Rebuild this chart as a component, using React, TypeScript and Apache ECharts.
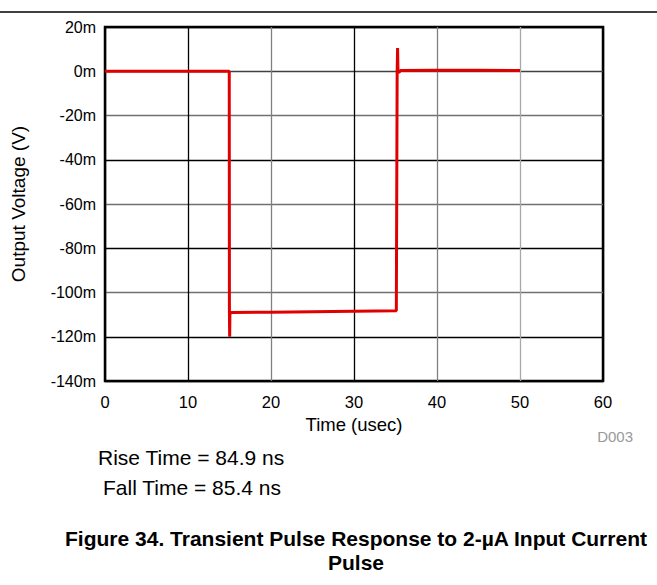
import React, { useEffect, useRef } from "react";
import * as echarts from "echarts";

// Time in microseconds
const timeUs = [0, 5, 10, 14.97, 14.99, 15.02, 15.05, 15.3, 20, 25, 30, 35.1, 35.2, 35.25, 35.3, 35.4, 35.6, 40, 45, 50];
// Output voltage in mV
const outputMv = [0, 0, 0, 0, -109, -120, -109.5, -109, -108.9, -108.7, -108.5, -108.3, 0, 10.5, 0, -0.6, 0.3, 0.4, 0.4, 0.3];

const xTicks = [0, 10, 20, 30, 40, 50, 60];
const yTicks = [-140, -120, -100, -80, -60, -40, -20, 0, 20];

const titleLines = ["Figure 34. Transient Pulse Response to 2-µA Input Current", "Pulse"];
const notes = ["Rise Time = 84.9 ns", "Fall Time = 85.4 ns"];

const FONT = "'Liberation Sans', Arial, sans-serif";

export default function App() {
  const ref = useRef<HTMLDivElement>(null);
  useEffect(() => {
    if (!ref.current) return;
    const chart = echarts.init(ref.current, undefined, { renderer: "svg" });
    const data = timeUs.map((t, i) => [t, outputMv[i]]);
    chart.setOption({
      animation: false,
      backgroundColor: "#fff",
      textStyle: { fontFamily: FONT },
      grid: {
        left: 105, top: 27, width: 498, height: 354,
        show: true, borderColor: "#000", borderWidth: 2.5, backgroundColor: "transparent",
      },
      xAxis: {
        type: "value",
        min: xTicks[0], max: xTicks[xTicks.length - 1], interval: 10,
        name: "Time (usec)", nameLocation: "middle", nameGap: 33,
        nameTextStyle: { fontSize: 18.5, color: "#000", fontFamily: FONT },
        axisLine: { show: false },
        axisTick: { show: false },
        axisLabel: { fontSize: 16.5, color: "#000", margin: 12, fontFamily: FONT },
        splitLine: {
          show: true,
          lineStyle: { width: 1.3, color: ["#000", "#000", "#808080", "#000", "#808080", "#a8a8a8", "#000"] },
        },
      },
      yAxis: {
        type: "value",
        min: yTicks[0], max: yTicks[yTicks.length - 1], interval: 20,
        name: "Output Voltage (V)", nameLocation: "middle", nameGap: 77,
        nameTextStyle: { fontSize: 19, color: "#000", fontFamily: FONT },
        axisLine: { show: false },
        axisTick: { show: false },
        axisLabel: { fontSize: 16, color: "#000", margin: 9, fontFamily: FONT, formatter: (v: number) => v + "m" },
        splitLine: {
          show: true,
          lineStyle: { width: 1.3, color: ["#000", "#000", "#707070", "#000", "#707070", "#000", "#707070", "#404040", "#000"] },
        },
      },
      series: [
        {
          type: "line",
          data,
          showSymbol: false,
          symbol: "none",
          lineStyle: { color: "#e00000", width: 3 },
          z: 5,
        },
      ],
      graphic: [
        { type: "line", shape: { x1: 0, y1: 12, x2: 657, y2: 12 }, style: { stroke: "#000", lineWidth: 1.5 } },
        { type: "text", x: 633, y: 436, style: { text: "D003", fill: "#999", fontSize: 15, fontFamily: FONT, textAlign: "right", textVerticalAlign: "middle" } },
        { type: "text", x: 98, y: 457, style: { text: notes[0], fill: "#000", fontSize: 21, fontFamily: FONT, textAlign: "left", textVerticalAlign: "middle" } },
        { type: "text", x: 103, y: 487, style: { text: notes[1], fill: "#000", fontSize: 21, fontFamily: FONT, textAlign: "left", textVerticalAlign: "middle" } },
        { type: "text", x: 356, y: 538, style: { text: titleLines[0], fill: "#000", fontSize: 21, fontWeight: "bold", fontFamily: FONT, textAlign: "center", textVerticalAlign: "middle" } },
        { type: "text", x: 356, y: 562, style: { text: titleLines[1], fill: "#000", fontSize: 21, fontWeight: "bold", fontFamily: FONT, textAlign: "center", textVerticalAlign: "middle" } },
      ],
    });
    return () => chart.dispose();
  }, []);
  return <div ref={ref} style={{ position: "fixed", left: 0, top: 0, width: 657, height: 585 }} />;
}
